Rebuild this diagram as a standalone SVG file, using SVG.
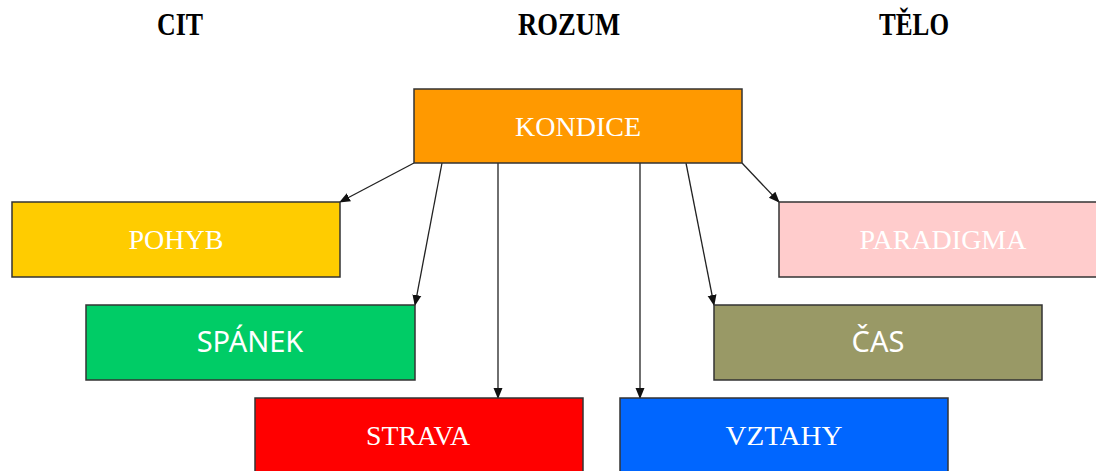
<svg xmlns="http://www.w3.org/2000/svg" width="1096" height="471" viewBox="0 0 1096 471">
<style>
.box{stroke:#333;stroke-width:1.5}
.serif{font-family:"Liberation Serif","Times New Roman",serif;fill:#fff;text-anchor:middle;font-size:28px}
.sans{font-family:"Noto Sans","Open Sans",sans-serif;fill:#fff;text-anchor:middle;font-size:29px}
.hdr{font-family:"Liberation Serif","Times New Roman",serif;font-weight:bold;fill:#000;font-size:32px;text-anchor:middle}
.conn{stroke:#222;stroke-width:1.3;fill:none;marker-end:url(#ah)}
</style>
<defs>
<marker id="ah" markerWidth="11" markerHeight="11" refX="10" refY="5.5" orient="auto" markerUnits="userSpaceOnUse">
<path d="M0,1 L11,5.5 L0,10 Z" fill="#111"/>
</marker>
</defs>
<rect width="1096" height="471" fill="#fff"/>
<g id="headers">
<text class="hdr" x="180" y="35" textLength="46" lengthAdjust="spacingAndGlyphs">CIT</text>
<text class="hdr" x="569" y="35" textLength="102" lengthAdjust="spacingAndGlyphs">ROZUM</text>
<text class="hdr" x="914" y="35" textLength="70" lengthAdjust="spacingAndGlyphs">TĚLO</text>
</g>
<g id="connectors">
<line class="conn" x1="414" y1="163" x2="340" y2="202"/>
<line class="conn" x1="442" y1="163" x2="415" y2="305"/>
<line class="conn" x1="498" y1="163" x2="498" y2="398"/>
<line class="conn" x1="640" y1="163" x2="640" y2="398"/>
<line class="conn" x1="686" y1="163" x2="714" y2="305"/>
<line class="conn" x1="742" y1="163" x2="779" y2="202"/>
</g>
<g id="kondice">
<rect class="box" x="414" y="89" width="328" height="74" fill="#FF9900"/>
<text class="serif" x="578" y="136" fill="#FFF3DD">KONDICE</text>
</g>
<g id="pohyb">
<rect class="box" x="12" y="202" width="328" height="75" fill="#FFCC00"/>
<text class="serif" x="176" y="249">POHYB</text>
</g>
<g id="spanek">
<rect class="box" x="86" y="305" width="329" height="75" fill="#00CC66"/>
<text class="sans" x="250" y="352">SPÁNEK</text>
</g>
<g id="paradigma">
<rect class="box" x="779" y="202" width="328" height="75" fill="#FFCCCC"/>
<text class="serif" x="943" y="249">PARADIGMA</text>
</g>
<g id="cas">
<rect class="box" x="714" y="305" width="328" height="75" fill="#999966"/>
<text class="sans" x="878" y="352">ČAS</text>
</g>
<g id="strava">
<rect class="box" x="255" y="398" width="328" height="80" fill="#FF0000"/>
<text class="serif" x="418" y="445" textLength="104" lengthAdjust="spacingAndGlyphs">STRAVA</text>
</g>
<g id="vztahy">
<rect class="box" x="620" y="398" width="328" height="80" fill="#0066FF"/>
<text class="serif" x="784" y="445" textLength="117" lengthAdjust="spacingAndGlyphs">VZTAHY</text>
</g>
</svg>
